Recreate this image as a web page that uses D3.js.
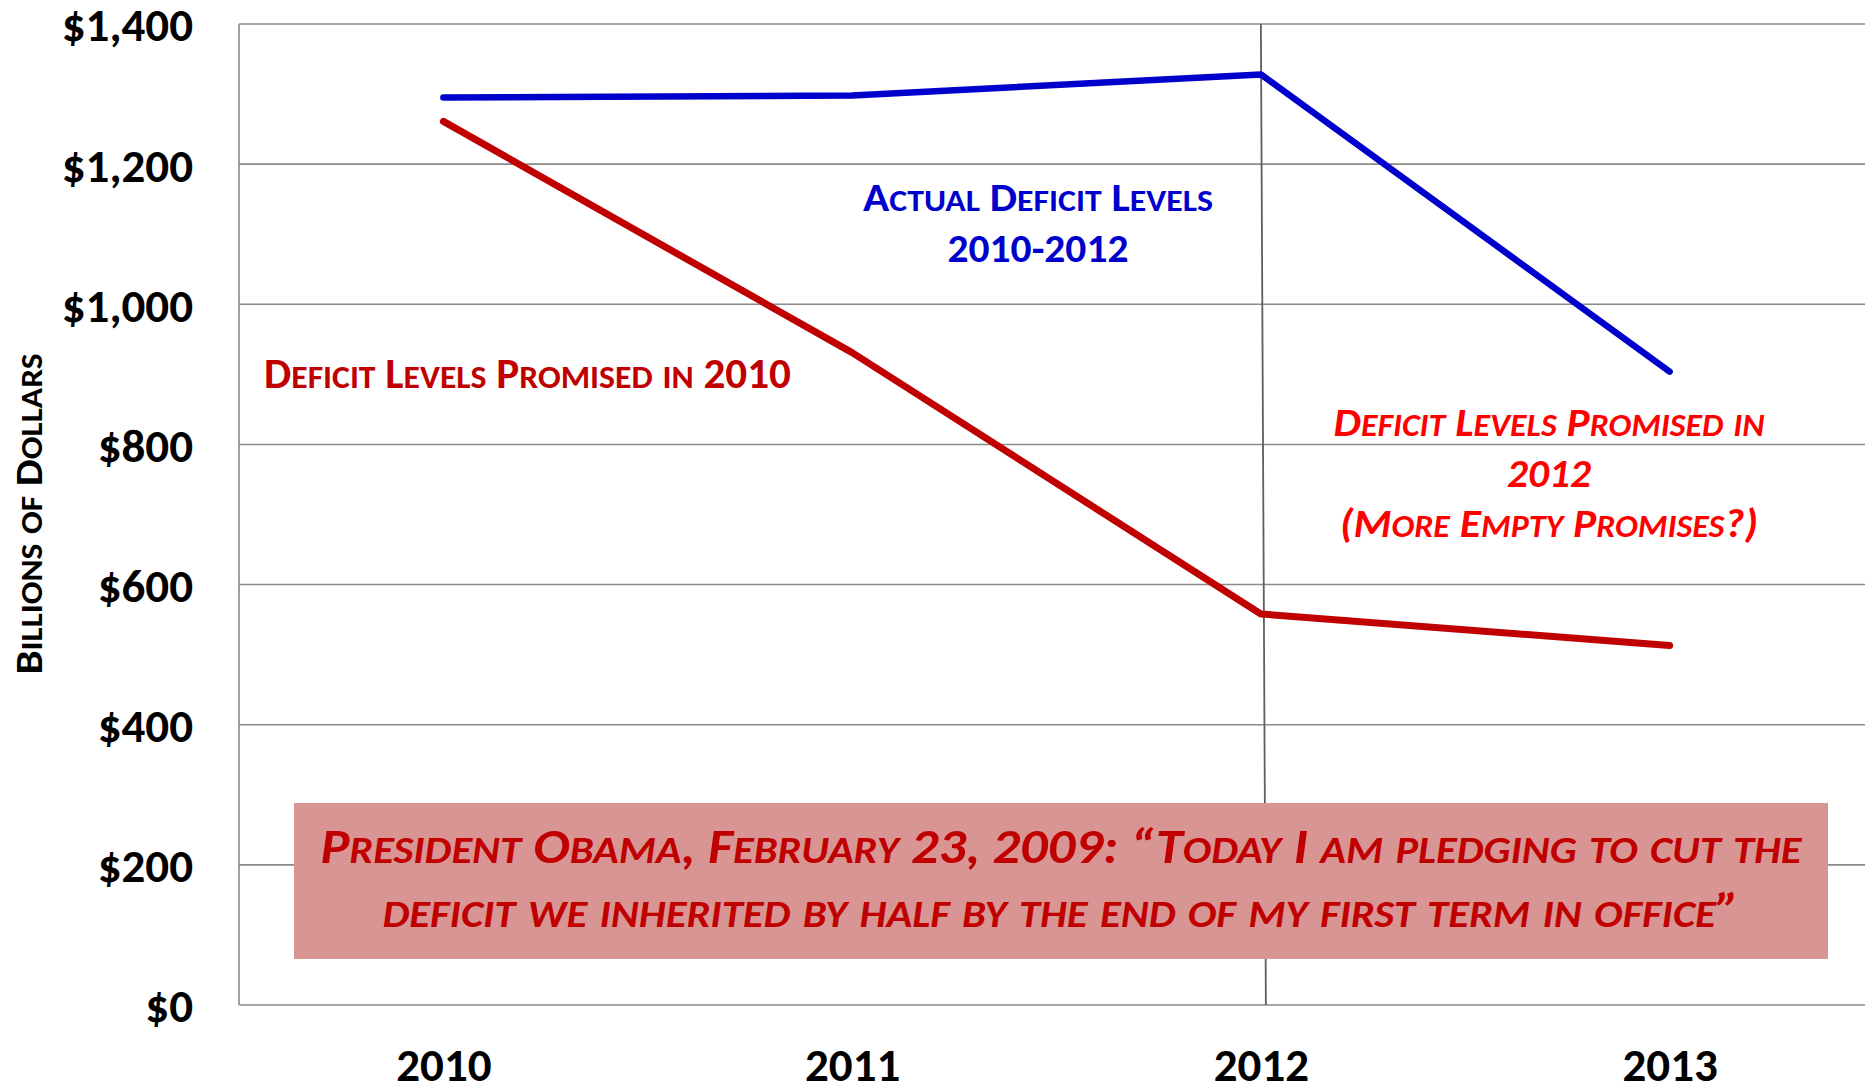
<!DOCTYPE html>
<html>
<head>
<meta charset="utf-8">
<script src="https://cdn.jsdelivr.net/npm/d3@7"></script>
<style>
    body { margin: 0; background: #fff; }
    svg { display: block; font-family: Carlito, Lato, sans-serif; font-weight: bold; }
</style>
</head>
<body>
<svg id="chart"></svg>
<script>
// data (billions of dollars)
const years = ['2010', '2011', '2012', '2013']
const actualDeficit = [1295, 1298, 1328, 904]
const promised2010 = [1261, 931, 558, 513]
const yTicks = [0, 200, 400, 600, 800, 1000, 1200, 1400]

const yTitle = 'Billions of Dollars'
const actualLabel = ['Actual Deficit Levels', '2010-2012']
const promised2010Label = ['Deficit Levels Promised in 2010']
const promised2012Label = ['Deficit Levels Promised in', '2012', '(More Empty Promises?)']
const quoteLines = [
    'President Obama, February 23, 2009: \u201cToday I am pledging to cut the',
    'deficit we inherited by half by the end of my first term in office\u201d'
]

const width = 1865
const height = 1088

const svg = d3.select('#chart')
    .attr('width', width)
    .attr('height', height)

const xScale = d3.scalePoint()
    .domain(years)
    .range([239, 1874])
    .padding(0.5)

const yScale = d3.scaleLinear()
    .domain([0, 1400])
    .range([1005, 24])

// lower-case letters become smaller capitals, like the original slide
function smallCaps(text, str, size) {
    str.match(/[a-z]+|[^a-z]+/g).forEach(run => {
        const lower = /[a-z]/.test(run[0])
        text.append('tspan')
            .attr('font-size', lower ? size * 0.78 : size)
            .text(run.toUpperCase())
    })
    return text
}

// squeeze text sideways so it covers the same width as in the picture
function fitWidth(text, target) {
    const bb = text.node().getBBox()
    const s = target / bb.width
    const anchor = text.attr('text-anchor')
    const ax = anchor === 'middle' ? bb.x + bb.width / 2 : bb.x
    text.attr('transform', `translate(${ax},0) scale(${s},1) translate(${-ax},0)`)
}

// grid
const grid = svg.append('g')
grid.selectAll('line')
    .data(yTicks)
    .join('line')
    .attr('x1', 239)
    .attr('x2', width)
    .attr('y1', d => yScale(d))
    .attr('y2', d => yScale(d))
    .attr('stroke', '#8a8a8a')
    .attr('stroke-width', 1.6)

grid.append('line')
    .attr('x1', 239).attr('x2', 239)
    .attr('y1', yScale(1400)).attr('y2', yScale(0))
    .attr('stroke', '#8a8a8a')
    .attr('stroke-width', 1.6)

// marker line at 2012
svg.append('line')
    .attr('x1', xScale('2012')).attr('x2', xScale('2012') + 5)
    .attr('y1', yScale(1400)).attr('y2', yScale(0))
    .attr('stroke', '#5f5f5f')
    .attr('stroke-width', 1.8)

// axes labels
const yAxis = d3.axisLeft(yScale)
    .tickValues(yTicks)
    .tickFormat(d => '$' + d3.format(',')(d))
    .tickSize(0)
    .tickPadding(46)

const yAxisG = svg.append('g')
    .attr('transform', 'translate(239,0)')
    .call(yAxis)
yAxisG.select('.domain').remove()
yAxisG.selectAll('text')
    .attr('font-family', 'Carlito, Lato, sans-serif')
    .attr('font-weight', 'bold')
    .attr('font-size', 47)
    .attr('fill', '#000')
    .attr('dy', '0.36em')

const xAxis = d3.axisBottom(xScale).tickSize(0)
const xAxisG = svg.append('g')
    .attr('transform', `translate(0,${yScale(0)})`)
    .call(xAxis)
xAxisG.select('.domain').remove()
xAxisG.selectAll('text')
    .attr('font-family', 'Carlito, Lato, sans-serif')
    .attr('font-weight', 'bold')
    .attr('font-size', 47)
    .attr('fill', '#000')
    .attr('y', 76)
    .attr('dy', 0)

// lines
const line = d3.line()
    .x((d, i) => xScale(years[i]))
    .y(d => yScale(d))

svg.selectAll('.chart-line')
    .data([
        { values: promised2010, color: '#c00000', w: 7 },
        { values: actualDeficit, color: '#0000cc', w: 6.5 }
    ])
    .join('path')
    .attr('class', 'chart-line')
    .attr('d', d => line(d.values))
    .attr('fill', 'none')
    .attr('stroke', d => d.color)
    .attr('stroke-width', d => d.w)
    .attr('stroke-linecap', 'round')
    .attr('stroke-linejoin', 'round')

// y title
const yTitleText = svg.append('g')
    .attr('transform', 'translate(42,514) rotate(-90)')
    .append('text')
    .attr('text-anchor', 'middle')
    .attr('fill', '#000')
smallCaps(yTitleText, yTitle, 38)
fitWidth(yTitleText, 321)

// blue annotation
const blueTexts = [[actualLabel[0], 211, 350], [actualLabel[1], 262, 181]]
blueTexts.forEach(([str, y, w]) => {
    const t = svg.append('text')
        .attr('x', 1038).attr('y', y)
        .attr('text-anchor', 'middle')
        .attr('fill', '#0000cc')
    smallCaps(t, str, 40)
    fitWidth(t, w)
})

// promised in 2010
const redLeft = svg.append('text')
    .attr('x', 264).attr('y', 388)
    .attr('text-anchor', 'start')
    .attr('fill', '#c00000')
smallCaps(redLeft, promised2010Label[0], 42)
fitWidth(redLeft, 527)

// promised in 2012
const redRight = [[436, 431], [487, 84], [537, 418]]
promised2012Label.forEach((str, i) => {
    const t = svg.append('text')
        .attr('x', 1549).attr('y', redRight[i][0])
        .attr('text-anchor', 'middle')
        .attr('font-style', 'italic')
        .attr('fill', '#ff0000')
    smallCaps(t, str, 41)
    fitWidth(t, redRight[i][1])
})

// quote box
svg.append('rect')
    .attr('x', 294).attr('y', 803)
    .attr('width', 1534).attr('height', 156)
    .attr('fill', '#d99594')

const quoteLayout = [[863, 1482], [927, 1357]]
quoteLines.forEach((str, i) => {
    const t = svg.append('text')
        .attr('x', 1061).attr('y', quoteLayout[i][0])
        .attr('text-anchor', 'middle')
        .attr('font-style', 'italic')
        .attr('fill', '#c00000')
    smallCaps(t, str, 48)
    fitWidth(t, quoteLayout[i][1])
})
</script>
</body>
</html>
